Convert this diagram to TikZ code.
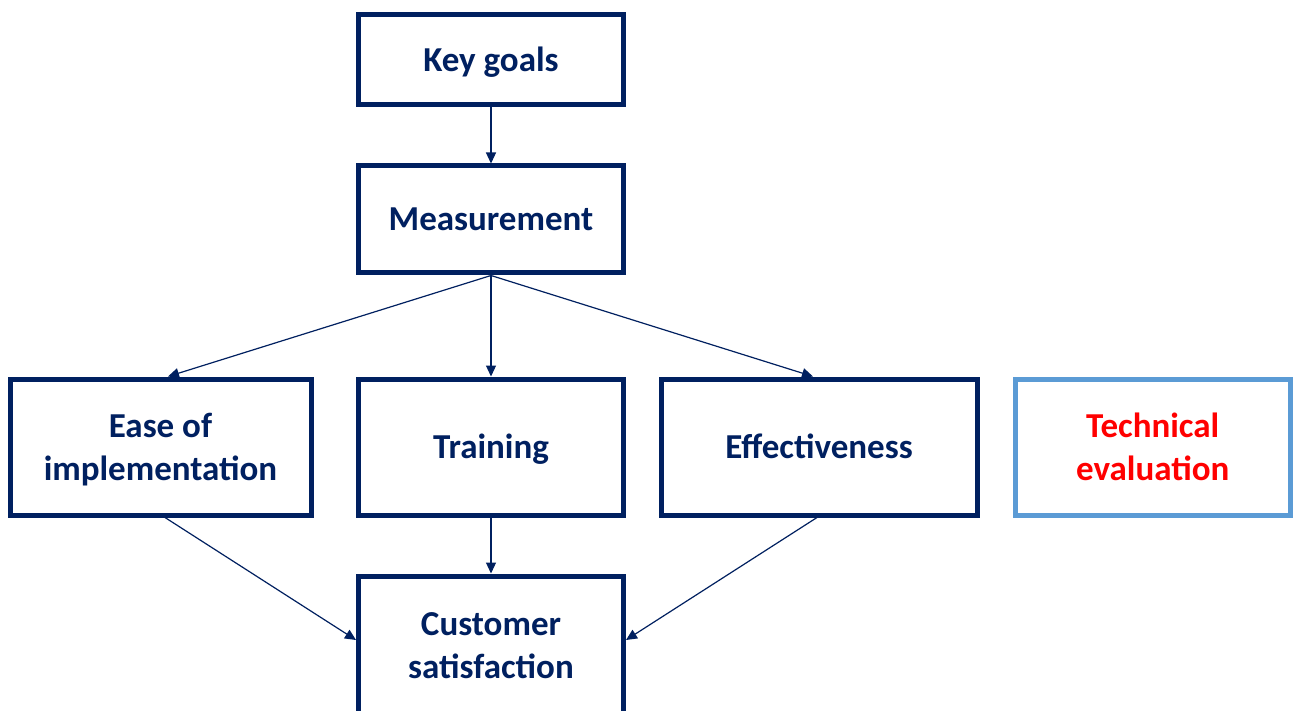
\documentclass[tikz,border=0pt]{standalone}
\usepackage{fontspec}
\setmainfont{Carlito}
\usetikzlibrary{arrows.meta}
\definecolor{navy}{HTML}{002060}
\definecolor{lightblue}{HTML}{5B9BD5}
\definecolor{brightred}{HTML}{FF0000}
\begin{document}
\begin{tikzpicture}[x=1pt,y=-1pt,
  box/.style={draw=navy,line width=5pt,fill=white,inner sep=0pt,align=center,text=navy,
    font=\fontsize{35}{43}\selectfont\bfseries},
  oneline/.style={text height=23pt,text depth=0pt},
  arr/.style={draw=navy,line width=1.2pt,-{Triangle[length=11pt,width=10pt]}}]
\useasboundingbox (0,0) rectangle (1293,711);
\clip (0,0) rectangle (1293,711);
\fill[white] (0,0) rectangle (1293,711);
\node[box,oneline,minimum width=265pt,minimum height=90pt] (key) at (491,60) {Key goals};
\node[box,oneline,minimum width=265pt,minimum height=107pt] (meas) at (491,219.5) {Measurement};
\node[box,text depth=0pt,minimum width=301pt,minimum height=136pt] (ease) at (160.5,447) {Ease of\\implementation};
\node[box,oneline,minimum width=265pt,minimum height=136pt] (train) at (491,447) {Training};
\node[box,oneline,minimum width=316pt,minimum height=136pt] (eff) at (819,447) {Effectiveness};
\node[box,draw=lightblue,text=brightred,minimum width=275.5pt,minimum height=136pt] (tech) at (1152.75,447) {Technical\\evaluation};
\node[box,minimum width=265pt,minimum height=140pt] (cust) at (491,646) {Customer\\satisfaction};
\draw[arr] (key.south) -- (meas.north);
\draw[arr] (meas.south) -- ([xshift=7.5pt]ease.north);
\draw[arr] (meas.south) -- (train.north);
\draw[arr] (meas.south) -- ([xshift=-6pt]eff.north);
\draw[arr] ([xshift=4.5pt]ease.south) -- ([yshift=6pt]cust.west);
\draw[arr] (train.south) -- (cust.north);
\draw[arr] ([xshift=-2pt]eff.south) -- ([yshift=6pt]cust.east);
\end{tikzpicture}
\end{document}
